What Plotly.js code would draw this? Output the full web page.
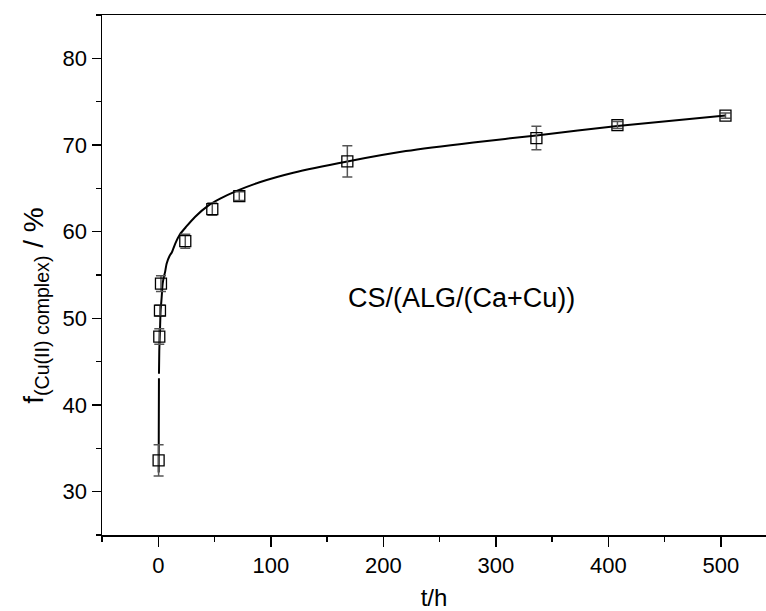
<!DOCTYPE html>
<html>
<head>
<meta charset="utf-8">
<script src="https://cdn.plot.ly/plotly-3.0.1.min.js"></script>
<style>html,body{margin:0;padding:0;background:#fff;}#chart{width:766px;height:611px;}</style>
</head>
<body>
<div id="chart"></div>
<script>
// Measured points
const timeH = [0.3, 0.9, 1.5, 2.4, 24, 48, 72, 168, 336, 408, 504];
const fComplex = [33.6, 47.9, 50.9, 54.0, 58.9, 62.6, 64.1, 68.1, 70.8, 72.3, 73.4];
const fError = [1.8, 0.9, 0.6, 0.9, 0.8, 0.7, 0.5, 1.8, 1.35, 0.4, 0.3];

// Fitted curve (drawn in two pieces, small gap near 43 %)
const fitLowT = [0.35, 0.45, 0.55, 0.6];
const fitLowF = [32.2, 37.1, 41.0, 43.1];
const fitHighT = [0.62, 0.9, 1.5, 2.1, 3.0, 3.9, 5, 6, 7.4, 10, 12, 15, 19.3, 25, 32.6, 44.4, 55, 69.7, 90, 120, 168, 220, 280, 336, 408, 504];
const fitHighF = [43.6, 46.3, 48.6, 50.9, 52.4, 54.0, 54.8, 55.3, 56.3, 57.2, 57.6, 58.6, 59.7, 60.6, 61.7, 63.0, 63.8, 64.7, 65.7, 66.8, 68.1, 69.3, 70.3, 71.1, 72.2, 73.4];

const xTickVals = [0, 100, 200, 300, 400, 500];
const yTickVals = [30, 40, 50, 60, 70, 80];
const labelText = 'CS/(ALG/(Ca+Cu))';
const yTitleText = 'f<sub>(Cu(II) complex)</sub> / %';
const xTitleText = 't/h';

const FONT = 'Liberation Sans, Arial, sans-serif';

const traces = [
  {x: fitLowT, y: fitLowF, mode: 'lines', line: {color: '#000', width: 2, shape: 'spline', smoothing: 0.6}, showlegend: false, hoverinfo: 'skip'},
  {x: fitHighT, y: fitHighF, mode: 'lines', line: {color: '#000', width: 2, shape: 'spline', smoothing: 0.6}, showlegend: false, hoverinfo: 'skip'},
  {x: timeH, y: fComplex, mode: 'markers',
   marker: {symbol: 'square-open', size: 11, color: '#000', line: {width: 1.3, color: '#000'}},
   error_y: {type: 'data', array: fError, visible: true, color: '#555', thickness: 1.5, width: 5},
   showlegend: false}
];

const layout = {
  width: 766, height: 611,
  margin: {l: 102, r: 0, t: 15, b: 76},
  paper_bgcolor: '#fff', plot_bgcolor: '#fff',
  font: {family: FONT, color: '#000', size: 22},
  showlegend: false,
  xaxis: {
    range: [-50, 540], tickvals: xTickVals, ticktext: xTickVals.map(String),
    ticks: 'outside', ticklen: 10, tickwidth: 1.5, tickcolor: '#000',
    minor: {dtick: 50, tick0: 0, ticks: 'outside', ticklen: 5, tickwidth: 1.5, tickcolor: '#000', showgrid: false},
    showline: true, linecolor: '#000', linewidth: 1.5, mirror: true,
    showgrid: false, zeroline: false, automargin: false,
    tickfont: {family: FONT, size: 22, color: '#000'},
    title: {text: xTitleText, font: {family: FONT, size: 24, color: '#000'}, standoff: 12}
  },
  yaxis: {
    range: [25, 85], tickvals: yTickVals, ticktext: yTickVals.map(String),
    ticks: 'outside', ticklen: 9, tickwidth: 1.5, tickcolor: '#000',
    minor: {dtick: 5, tick0: 0, ticks: 'outside', ticklen: 5, tickwidth: 1.5, tickcolor: '#000', showgrid: false},
    showline: true, linecolor: '#000', linewidth: 1.5, mirror: false,
    showgrid: false, zeroline: false, automargin: false,
    tickfont: {family: FONT, size: 22, color: '#000'}
  },
  annotations: [
    {x: 269, y: 52.3, xref: 'x', yref: 'y', text: labelText, showarrow: false,
     font: {family: FONT, size: 27, color: '#000'}, xanchor: 'center', yanchor: 'middle'},
    {x: -0.1, y: 0.44, xref: 'paper', yref: 'paper', text: yTitleText, showarrow: false,
     textangle: -90, font: {family: FONT, size: 28, color: '#000'}, xanchor: 'center', yanchor: 'middle'}
  ]
};

Plotly.newPlot('chart', traces, layout, {displayModeBar: false, staticPlot: true});
</script>
</body>
</html>
